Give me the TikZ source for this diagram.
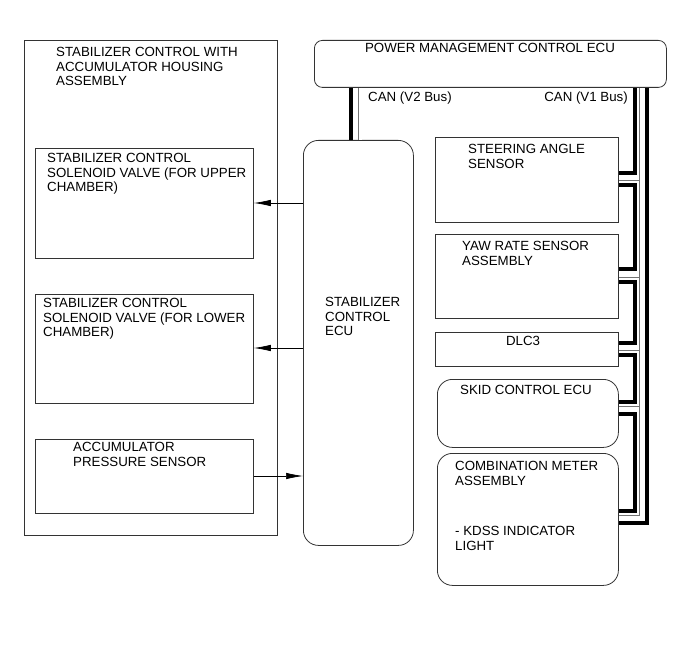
\documentclass[tikz,border=0pt]{standalone}
\usepackage{fontspec}
\setmainfont{Liberation Sans}
\usetikzlibrary{positioning,arrows.meta}

\begin{document}
\begin{tikzpicture}[x=1pt,y=-1pt,
		box/.style={draw=black!80,line width=0.8pt,inner sep=0pt,anchor=north west},
		rbox/.style={box,rounded corners=15pt},
		lbl/.style={inner sep=0pt,anchor=base west,align=left,font=\fontsize{13.3}{14.5}\selectfont},
		sig/.style={line width=0.7pt,-{Latex[length=17pt,width=6.5pt]}},
		canh/.style={line width=3.5pt},
		canl/.style={draw=black!55,line width=0.7pt,double=white,double distance=3pt}]
	%\draw[help lines] (0,0) grid[step=50] (691,660);
	\useasboundingbox (0,0) rectangle (691,660);

	% left housing (text nodes sit on the baseline of their last line)
	\node[box,minimum width=253pt,minimum height=495pt] (housing) at (24,40) {};
	\node[box,minimum width=218pt,minimum height=110pt] (upsol) at (35,148) {};
	\node[box,minimum width=218pt,minimum height=109pt] (lowsol) at (35,294) {};
	\node[box,minimum width=218pt,minimum height=74pt] (accsens) at (35,439) {};

	\node[lbl] (housing-txt) at (56,86) {STABILIZER CONTROL WITH\\ACCUMULATOR HOUSING\\ASSEMBLY};
	\node[lbl] (upsol-txt) at (47,192) {STABILIZER CONTROL\\SOLENOID VALVE (FOR UPPER\\CHAMBER)};
	\node[lbl] (lowsol-txt) at (43,337) {STABILIZER CONTROL\\SOLENOID VALVE (FOR LOWER\\CHAMBER)};
	\node[lbl] (accsens-txt) at (73,466) {ACCUMULATOR\\PRESSURE SENSOR};

	% ecus
	\node[rbox,minimum width=110pt,minimum height=405pt] (stabecu) at (303,140) {};
	\node[box,rounded corners=8pt,minimum width=352pt,minimum height=47pt] (pwrecu) at (314,40) {};
	\node[lbl] (stabecu-txt) at (325,336) {STABILIZER\\CONTROL\\ECU};
	\node[lbl,anchor=base] (pwrecu-txt) at (490,53) {POWER MANAGEMENT CONTROL ECU};

	% v1 bus members
	\node[box,minimum width=183pt,minimum height=85pt] (steer) at (435,137) {};
	\node[box,minimum width=183pt,minimum height=84pt] (yaw) at (435,234) {};
	\node[box,minimum width=183pt,minimum height=34pt] (dlc) at (435,332) {};
	\node[rbox,minimum width=181pt,minimum height=68pt] (skid) at (437,379) {};
	\node[rbox,minimum width=181pt,minimum height=132pt] (meter) at (437,453) {};

	\node[lbl] (steer-txt) at (468,168.5) {STEERING ANGLE\\SENSOR};
	\node[lbl] (yaw-txt) at (462,265.5) {YAW RATE SENSOR\\ASSEMBLY};
	\node[lbl,anchor=base] (dlc-txt) at (523,346) {DLC3};
	\node[lbl] (skid-txt) at (460,395) {SKID CONTROL ECU};
	\node[lbl] (meter-txt) at (455,550) {COMBINATION METER\\ASSEMBLY\\[36pt]- KDSS INDICATOR\\LIGHT};

	% signals
	\draw[sig] (stabecu.west |- 0,203) -- (upsol.east |- 0,203);
	\draw[sig] (stabecu.west |- 0,348) -- (lowsol.east |- 0,348);
	\draw[sig] (accsens.east |- 0,476) -- (stabecu.west |- 0,476);

	% can v2
	\draw[canh] (pwrecu.south -| 351,0) -- (stabecu.north -| 351,0);
	\draw[canl] (pwrecu.south -| 360,0) -- (stabecu.north -| 360,0);
	\node[lbl] (v2-txt) at (368,102) {CAN (V2 Bus)};

	% can v1
	\foreach \n/\y in {steer/179, yaw/276, dlc/349, skid/408}
		\draw[canl] (\n.east |- 0,\y) -- (641,\y);
	\draw[canl] (pwrecu.south -| 641,0) |- (meter.east |- 0,517);
	\draw[canh] (pwrecu.south -| 635,0) |- (steer.east |- 0,173);
	\foreach \a/\ya/\b/\yb in {steer/185/yaw/269, yaw/282/dlc/343, dlc/355/skid/402, skid/414/meter/511}
		\draw[canh] (\a.east |- 0,\ya) -| (635,\yb) -- (\b.east |- 0,\yb);
	\draw[canh] (pwrecu.south -| 647,0) |- (meter.east |- 0,523);
	\node[lbl,anchor=base east] (v1-txt) at (628,102) {CAN (V1 Bus)};
\end{tikzpicture}
\end{document}
